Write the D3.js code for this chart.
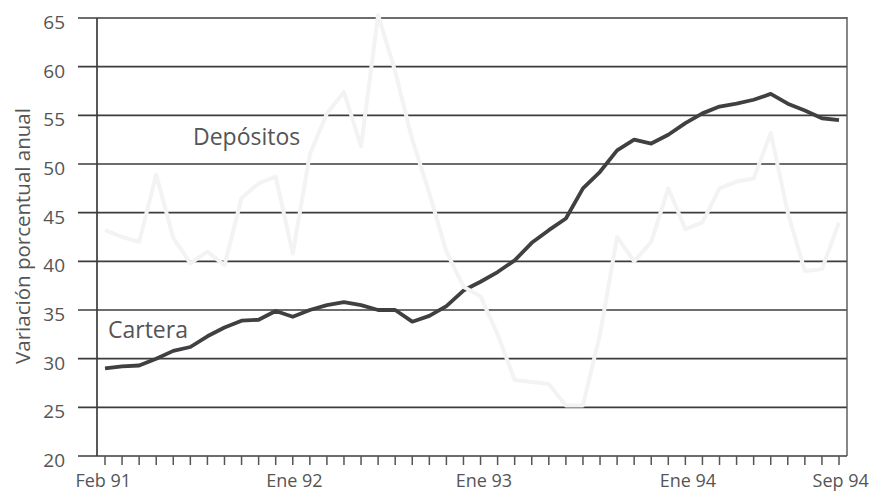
<!DOCTYPE html>
<html>
<head>
<meta charset="utf-8">
<script src="https://cdn.jsdelivr.net/npm/d3@7"></script>
<style>
  body { margin: 0; background: #fff; }
  text { font-family: "Open Sans", sans-serif; fill: #555; }
</style>
</head>
<body>
<div id="chart"></div>
<script>
// Meses, Feb 91 a Sep 94
const months = [
  "Feb 91","Mar 91","Abr 91","May 91","Jun 91","Jul 91","Ago 91","Sep 91","Oct 91","Nov 91","Dic 91",
  "Ene 92","Feb 92","Mar 92","Abr 92","May 92","Jun 92","Jul 92","Ago 92","Sep 92","Oct 92","Nov 92","Dic 92",
  "Ene 93","Feb 93","Mar 93","Abr 93","May 93","Jun 93","Jul 93","Ago 93","Sep 93","Oct 93","Nov 93","Dic 93",
  "Ene 94","Feb 94","Mar 94","Abr 94","May 94","Jun 94","Jul 94","Ago 94","Sep 94"
]

const cartera = [
  29.0, 29.2, 29.3, 30.0, 30.8, 31.2, 32.3, 33.2, 33.9, 34.0, 34.9,
  34.3, 35.0, 35.5, 35.8, 35.5, 35.0, 35.0, 33.8, 34.4, 35.4, 37.0, 37.9,
  38.9, 40.1, 41.9, 43.2, 44.4, 47.5, 49.2, 51.4, 52.5, 52.1, 53.0, 54.2,
  55.2, 55.9, 56.2, 56.6, 57.2, 56.2, 55.5, 54.7, 54.5
]

const depositos = [
  43.2, 42.5, 42.0, 48.9, 42.4, 39.8, 41.0, 39.6, 46.5, 48.0, 48.7,
  40.8, 51.0, 55.2, 57.4, 51.8, 65.3, 59.5, 52.5, 47.0, 41.0, 37.4, 36.4,
  32.5, 27.8, 27.6, 27.4, 25.2, 25.2, 32.5, 42.5, 40.0, 42.0, 47.5, 43.3,
  44.0, 47.5, 48.2, 48.5, 53.2, 45.0, 39.0, 39.2, 44.0
]

// Etiquetas del eje X (posición en meses)
const tickLabels = ["Feb 91", "Ene 92", "Ene 93", "Ene 94", "Sep 94"]
const tickLabelAt = [-0.1, 11.1, 22.2, 34.15, 43.1]

const yTicks = [20, 25, 30, 35, 40, 45, 50, 55, 60, 65]

const W = 873, H = 494
const svg = d3.select("#chart").append("svg")
  .attr("width", W)
  .attr("height", H)

const plotLeft = 97, plotRight = 847, plotTop = 18, plotBottom = 456

const x = d3.scaleLinear().domain([0, months.length - 1]).range([105, 839])
const y = d3.scaleLinear().domain([20, 65]).range([plotBottom, plotTop])

// Líneas de grade horizontales
svg.append("g")
  .selectAll("line")
  .data(yTicks)
  .join("line")
  .attr("x1", 78)
  .attr("x2", plotRight)
  .attr("y1", d => y(d))
  .attr("y2", d => y(d))
  .attr("stroke", "#3c3c3c")
  .attr("stroke-width", 1.6)

// Etiquetas del eje Y
svg.append("g")
  .selectAll("text")
  .data(yTicks)
  .join("text")
  .attr("x", 65)
  .attr("y", d => y(d) + 4)
  .attr("dy", "0.36em")
  .attr("text-anchor", "end")
  .attr("font-size", 19)
  .text(d => d)

// Eje vertical izquierdo y borde derecho
svg.append("line")
  .attr("x1", plotLeft).attr("x2", plotLeft)
  .attr("y1", plotTop).attr("y2", plotBottom)
  .attr("stroke", "#3c3c3c").attr("stroke-width", 1.7)
svg.append("line")
  .attr("x1", plotRight).attr("x2", plotRight)
  .attr("y1", plotTop - 1).attr("y2", plotBottom)
  .attr("stroke", "#555").attr("stroke-width", 1.4)

// Marcas mensuales del eje X
svg.append("g")
  .selectAll("line")
  .data(months)
  .join("line")
  .attr("x1", (d, i) => x(i))
  .attr("x2", (d, i) => x(i))
  .attr("y1", plotBottom)
  .attr("y2", plotBottom + 9)
  .attr("stroke", "#555")
  .attr("stroke-width", 1.5)

svg.append("g")
  .selectAll("text")
  .data(tickLabels)
  .join("text")
  .attr("x", (d, i) => x(tickLabelAt[i]))
  .attr("y", 487)
  .attr("text-anchor", "middle")
  .attr("font-size", 18)
  .text(d => d)

// Título del eje Y
svg.append("text")
  .attr("transform", "translate(30," + 236 + ") rotate(-90)")
  .attr("text-anchor", "middle")
  .attr("font-size", 20.5)
  .text("Variación porcentual anual")

const line = d3.line()
  .x((d, i) => x(i))
  .y(d => y(d))

// Cartera
svg.append("path")
  .datum(cartera)
  .attr("fill", "none")
  .attr("stroke", "#404040")
  .attr("stroke-width", 3.8)
  .attr("stroke-linejoin", "round")
  .attr("d", line)

// Depósitos (línea clara encima)
svg.append("path")
  .datum(depositos)
  .attr("fill", "none")
  .attr("stroke", "#f3f3f3")
  .attr("stroke-width", 4)
  .attr("stroke-linejoin", "round")
  .attr("d", line)

// Rótulos de las series
svg.append("text")
  .attr("x", 193)
  .attr("y", 145)
  .attr("font-size", 23)
  .text("Depósitos")

svg.append("text")
  .attr("x", 108)
  .attr("y", 338)
  .attr("font-size", 23)
  .text("Cartera")
</script>
</body>
</html>
